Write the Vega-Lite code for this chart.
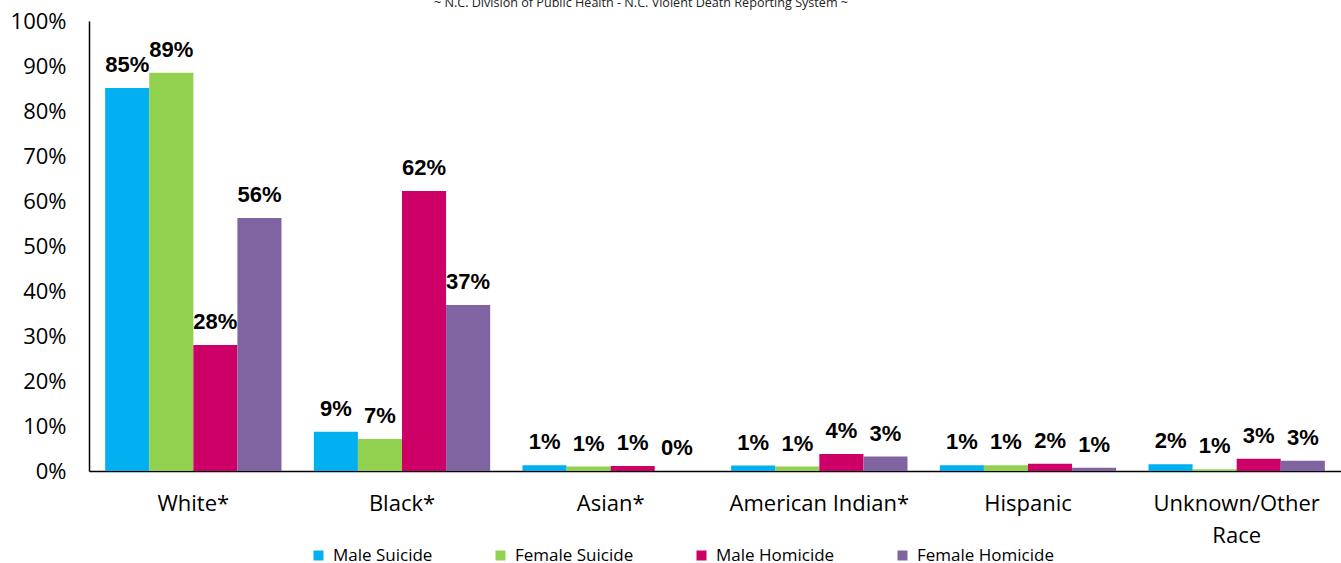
{
  "$schema": "https://vega.github.io/schema/vega-lite/v6.json",
  "width": 1252,
  "height": 450,
  "autosize": {"type": "none"},
  "padding": {"left": 89, "top": 21, "right": 0, "bottom": 92},
  "background": "white",
  "config": {"view": {"stroke": null}, "font": "Open Sans"},
  "title": {
    "text": "~ N.C. Division of Public Health - N.C. Violent Death Reporting System ~",
    "fontSize": 12.6,
    "fontWeight": "normal",
    "font": "Open Sans",
    "color": "#222222",
    "anchor": "middle",
    "dx": -74,
    "offset": 0
  },
  "data": {
    "values": [
      {"race": "White*", "group": "Male Suicide", "value": 85.1, "label": "85%"},
      {"race": "White*", "group": "Female Suicide", "value": 88.5, "label": "89%"},
      {"race": "White*", "group": "Male Homicide", "value": 28.0, "label": "28%"},
      {"race": "White*", "group": "Female Homicide", "value": 56.2, "label": "56%"},
      {"race": "Black*", "group": "Male Suicide", "value": 8.7, "label": "9%"},
      {"race": "Black*", "group": "Female Suicide", "value": 7.1, "label": "7%"},
      {"race": "Black*", "group": "Male Homicide", "value": 62.2, "label": "62%"},
      {"race": "Black*", "group": "Female Homicide", "value": 36.9, "label": "37%"},
      {"race": "Asian*", "group": "Male Suicide", "value": 1.3, "label": "1%"},
      {"race": "Asian*", "group": "Female Suicide", "value": 1.0, "label": "1%"},
      {"race": "Asian*", "group": "Male Homicide", "value": 1.1, "label": "1%"},
      {"race": "Asian*", "group": "Female Homicide", "value": 0.0, "label": "0%"},
      {"race": "American Indian*", "group": "Male Suicide", "value": 1.2, "label": "1%"},
      {"race": "American Indian*", "group": "Female Suicide", "value": 1.0, "label": "1%"},
      {"race": "American Indian*", "group": "Male Homicide", "value": 3.8, "label": "4%"},
      {"race": "American Indian*", "group": "Female Homicide", "value": 3.2, "label": "3%"},
      {"race": "Hispanic", "group": "Male Suicide", "value": 1.3, "label": "1%"},
      {"race": "Hispanic", "group": "Female Suicide", "value": 1.3, "label": "1%"},
      {"race": "Hispanic", "group": "Male Homicide", "value": 1.6, "label": "2%"},
      {"race": "Hispanic", "group": "Female Homicide", "value": 0.7, "label": "1%"},
      {"race": "Unknown/Other Race", "group": "Male Suicide", "value": 1.5, "label": "2%"},
      {"race": "Unknown/Other Race", "group": "Female Suicide", "value": 0.4, "label": "1%"},
      {"race": "Unknown/Other Race", "group": "Male Homicide", "value": 2.7, "label": "3%"},
      {"race": "Unknown/Other Race", "group": "Female Homicide", "value": 2.3, "label": "3%"}
    ]
  },
  "encoding": {
    "x": {
      "field": "race",
      "type": "nominal",
      "sort": ["White*", "Black*", "Asian*", "American Indian*", "Hispanic", "Unknown/Other Race"],
      "scale": {"paddingInner": 0.155, "paddingOuter": 0.0775},
      "axis": {
        "title": null,
        "labelAngle": 0,
        "labelFont": "Open Sans",
        "labelFontSize": 22,
        "labelColor": "#000000",
        "labelPadding": 22,
        "labelLineHeight": 32,
        "ticks": false,
        "domainColor": "#000000",
        "domainWidth": 1.5,
        "labelExpr": "datum.label == 'Unknown/Other Race' ? ['Unknown/Other', 'Race'] : datum.label"
      }
    },
    "xOffset": {
      "field": "group",
      "type": "nominal",
      "sort": ["Male Suicide", "Female Suicide", "Male Homicide", "Female Homicide"],
      "scale": {"paddingInner": 0, "paddingOuter": 0}
    },
    "y": {
      "field": "value",
      "type": "quantitative",
      "scale": {"domain": [0, 100], "nice": false},
      "axis": {
        "title": null,
        "values": [0, 10, 20, 30, 40, 50, 60, 70, 80, 90, 100],
        "labelExpr": "datum.value + '%'",
        "labelFont": "Open Sans",
        "labelFontSize": 22,
        "labelColor": "#000000",
        "labelPadding": 23,
        "ticks": false,
        "grid": false,
        "domainColor": "#000000",
        "domainWidth": 1.5
      }
    }
  },
  "layer": [
    {
      "mark": {"type": "bar"},
      "encoding": {
        "color": {
          "field": "group",
          "type": "nominal",
          "sort": ["Male Suicide", "Female Suicide", "Male Homicide", "Female Homicide"],
          "scale": {
            "domain": ["Male Suicide", "Female Suicide", "Male Homicide", "Female Homicide"],
            "range": ["#00B0F0", "#92D050", "#CC0066", "#8064A2"]
          },
          "legend": {
            "title": null,
            "orient": "none",
            "legendX": 221,
            "legendY": 526,
            "direction": "horizontal",
            "columns": 4,
            "gridAlign": "none",
            "columnPadding": 59,
            "symbolType": "square",
            "symbolSize": 100,
            "symbolStrokeWidth": 0,
            "labelFont": "Open Sans",
            "labelFontSize": 17,
            "labelColor": "#000000",
            "labelOffset": 6
          }
        }
      }
    },
    {
      "mark": {
        "type": "text",
        "baseline": "alphabetic",
        "dy": -16,
        "font": "Liberation Sans",
        "fontSize": 22,
        "fontWeight": "bold",
        "color": "#000000"
      },
      "encoding": {
        "text": {"field": "label"}
      }
    }
  ]
}
